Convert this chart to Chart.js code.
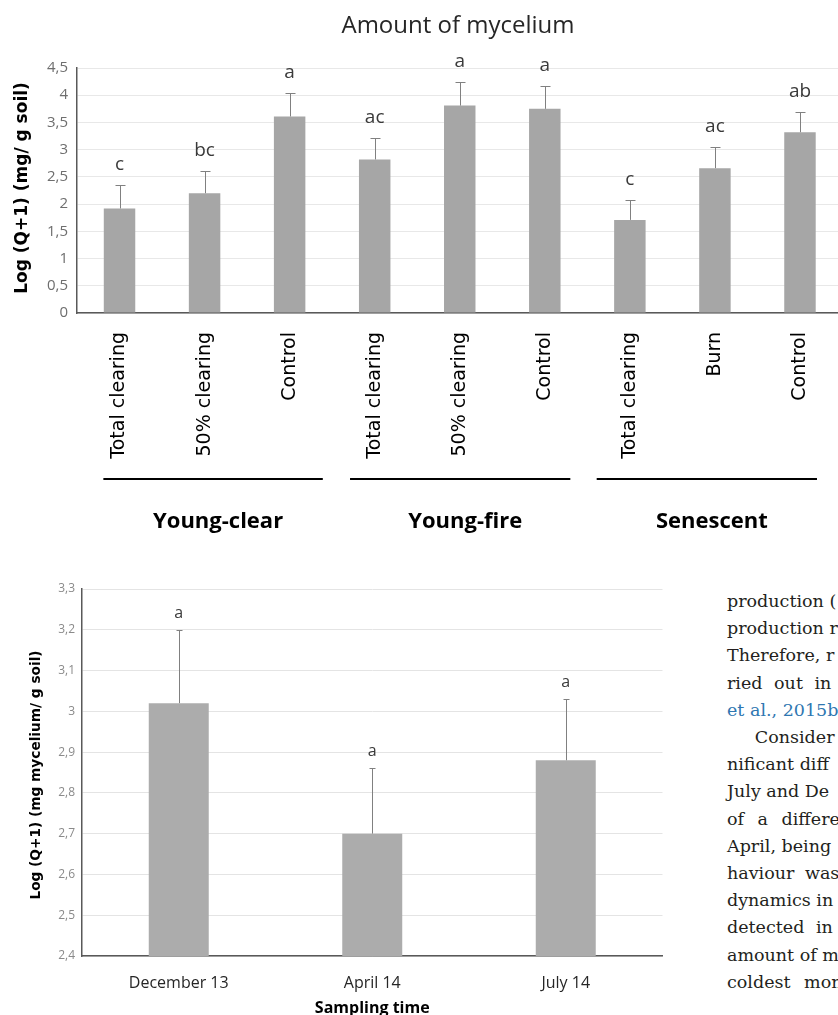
<!DOCTYPE html>
<html>
<head>
<meta charset="utf-8">
<script src="https://cdn.jsdelivr.net/npm/chart.js@4.4.0/dist/chart.umd.min.js"></script>
<style>
    html, body { margin: 0; padding: 0; background: #fff; }
    body { width: 838px; height: 1015px; overflow: hidden; position: relative; }
    #topWrap { position: absolute; left: 0; top: 0; width: 850px; height: 560px; }
    #bottomWrap { position: absolute; left: 0; top: 570px; width: 670px; height: 445px; }
    #sideText {
        position: absolute; left: 727px; top: 588px;
        font-family: "DejaVu Serif", serif; font-size: 17.5px; line-height: 27.2px;
        color: #231f20; white-space: pre;
    }
    #sideText .link { color: #2f77b1; }
</style>
</head>
<body>
<div id="topWrap"><canvas id="myceliumChart" width="850" height="560"></canvas></div>
<div id="bottomWrap"><canvas id="seasonChart" width="670" height="445"></canvas></div>
<div id="sideText"><div>production (</div><div>production r</div><div>Therefore, r</div><div style="word-spacing:6px">ried out in</div><div class="link">et al., 2015b</div><div>     Consider</div><div>nificant diff</div><div>July and De</div><div style="word-spacing:8px">of a differe</div><div>April, being</div><div style="word-spacing:5px">haviour was</div><div>dynamics in</div><div style="word-spacing:6px">detected in</div><div>amount of m</div><div style="word-spacing:8px">coldest mon</div></div>

<script>
// Top chart: amount of mycelium per treatment
const treatments = ['Total clearing', '50% clearing', 'Control',
                    'Total clearing', '50% clearing', 'Control',
                    'Total clearing', 'Burn', 'Control'];
const myceliumValues = [1.92, 2.20, 3.61, 2.82, 3.81, 3.75, 1.71, 2.66, 3.32];
const myceliumErrors = [0.43, 0.41, 0.44, 0.40, 0.43, 0.42, 0.36, 0.39, 0.38];
const myceliumLetters = ['c', 'bc', 'a', 'ac', 'a', 'a', 'c', 'ac', 'ab'];
const standGroups = ['Young-clear', 'Young-fire', 'Senescent'];

// Bottom chart: mycelium per sampling time
const samplingTimes = ['December 13', 'April 14', 'July 14'];
const seasonValues = [3.02, 2.70, 2.88];
const seasonErrors = [0.18, 0.16, 0.15];
const seasonLetters = ['a', 'a', 'a'];

// group underline spans, in category units
const groupSpans = [[-0.19, 2.39], [2.71, 5.30], [5.61, 8.20]];

const BAR_GREY = '#a6a6a6';
const ERR_GREY = '#808080';

const commaTick = (v) => (Number.isInteger(v) ? String(v) : v.toFixed(1)).replace('.', ',');

// draws error bars (plus side) and letter labels above them
const errorBarPlugin = (values, errors, letters, capHalf, font, gap) => ({
    id: 'errorBars',
    afterDatasetsDraw(chart) {
        const { ctx, scales: { y } } = chart;
        const meta = chart.getDatasetMeta(0);
        ctx.save();
        ctx.strokeStyle = ERR_GREY;
        ctx.lineWidth = 1;
        meta.data.forEach((bar, i) => {
            const cx = Math.round(bar.x) + 0.5;
            const yBar = y.getPixelForValue(values[i]);
            const yTop = Math.round(y.getPixelForValue(values[i] + errors[i])) + 0.5;
            ctx.beginPath();
            ctx.moveTo(cx, yBar);
            ctx.lineTo(cx, yTop);
            ctx.moveTo(cx - capHalf, yTop);
            ctx.lineTo(cx + capHalf, yTop);
            ctx.stroke();

            ctx.fillStyle = '#3a3a3a';
            ctx.font = font;
            ctx.textAlign = 'center';
            ctx.textBaseline = 'alphabetic';
            ctx.fillText(letters[i], bar.x, yTop - gap);
        });
        ctx.restore();
    }
});

const topDecor = {
    id: 'topDecor',
    afterDraw(chart) {
        const { ctx, scales: { x } } = chart;
        ctx.save();
        // chart title
        ctx.fillStyle = '#262626';
        ctx.font = '24px "Open Sans"';
        ctx.textAlign = 'center';
        ctx.textBaseline = 'alphabetic';
        ctx.fillText('Amount of mycelium', 458, 33);

        // y axis title
        ctx.save();
        ctx.translate(23, 188);
        ctx.rotate(-Math.PI / 2);
        ctx.fillStyle = '#000';
        ctx.font = 'bold 17px "DejaVu Sans"';
        ctx.textBaseline = 'middle';
        ctx.fillText('Log (Q+1) (mg/ g soil)', 0, 0);
        ctx.restore();

        // group underlines and names
        const step = x.getPixelForValue(1) - x.getPixelForValue(0);
        const x0 = x.getPixelForValue(0);
        ctx.strokeStyle = '#000';
        ctx.lineWidth = 2;
        ctx.font = 'bold 22px "Open Sans"';
        ctx.fillStyle = '#000';
        standGroups.forEach((name, g) => {
            const left = x0 + groupSpans[g][0] * step;
            const right = x0 + groupSpans[g][1] * step;
            ctx.beginPath();
            ctx.moveTo(left, 479);
            ctx.lineTo(right, 479);
            ctx.stroke();
            ctx.fillText(name, (left + right) / 2 + 5, 528);
        });
        ctx.restore();
    }
};

const bottomDecor = {
    id: 'bottomDecor',
    afterDraw(chart) {
        const { ctx, chartArea } = chart;
        ctx.save();
        ctx.save();
        ctx.translate(36, 205);
        ctx.rotate(-Math.PI / 2);
        ctx.fillStyle = '#000';
        ctx.font = 'bold 13.7px "DejaVu Sans"';
        ctx.textAlign = 'center';
        ctx.textBaseline = 'middle';
        ctx.fillText('Log (Q+1) (mg mycelium/ g soil)', 0, 0);
        ctx.restore();

        ctx.fillStyle = '#000';
        ctx.font = 'bold 16px "Open Sans"';
        ctx.textAlign = 'center';
        ctx.textBaseline = 'alphabetic';
        ctx.fillText('Sampling time', (chartArea.left + chartArea.right) / 2, 443);
        ctx.restore();
    }
};

const noSidePadding = (scale) => { scale.paddingLeft = 0; scale.paddingRight = 0; };

window.onload = () => {
    new Chart(document.getElementById('myceliumChart'), {
        type: 'bar',
        data: {
            labels: treatments,
            datasets: [{
                data: myceliumValues,
                backgroundColor: BAR_GREY,
                barPercentage: 0.37,
                categoryPercentage: 1
            }]
        },
        options: {
            responsive: false,
            animation: false,
            devicePixelRatio: 1,
            layout: { padding: { top: 68, right: 7.5, left: 0, bottom: 0 } },
            plugins: { legend: { display: false }, tooltip: { enabled: false } },
            scales: {
                x: {
                    grid: { color: 'rgba(0,0,0,0)', drawTicks: false },
                    border: { color: '#595959', width: 1.5 },
                    ticks: {
                        minRotation: 90, maxRotation: 90, padding: 19,
                        color: '#000', font: { family: 'DejaVu Sans', size: 19 }
                    },
                    afterFit: (s) => { s.height = 247; noSidePadding(s); }
                },
                y: {
                    min: 0, max: 4.5,
                    grid: { color: '#e8e8e8', drawTicks: false },
                    border: { color: '#595959', width: 1.5 },
                    ticks: {
                        stepSize: 0.5, padding: 9, color: '#6e6e6e',
                        font: { family: 'Open Sans', size: 15 },
                        callback: commaTick
                    },
                    afterFit: (s) => { s.width = 77; }
                }
            }
        },
        plugins: [errorBarPlugin(myceliumValues, myceliumErrors, myceliumLetters, 5, '19px "Open Sans"', 16), topDecor]
    });

    new Chart(document.getElementById('seasonChart'), {
        type: 'bar',
        data: {
            labels: samplingTimes,
            datasets: [{
                data: seasonValues,
                backgroundColor: '#acacac',
                barPercentage: 0.31,
                categoryPercentage: 1
            }]
        },
        options: {
            responsive: false,
            animation: false,
            devicePixelRatio: 1,
            layout: { padding: { top: 19, right: 7.5, left: 0, bottom: 0 } },
            plugins: { legend: { display: false }, tooltip: { enabled: false } },
            scales: {
                x: {
                    grid: { color: 'rgba(0,0,0,0)', drawTicks: false },
                    border: { color: '#595959', width: 1.5 },
                    ticks: {
                        padding: 18, color: '#262626',
                        font: { family: 'Open Sans', size: 16 }
                    },
                    afterFit: (s) => { s.height = 59; noSidePadding(s); }
                },
                y: {
                    min: 2.4, max: 3.3,
                    grid: { color: '#e4e4e4', drawTicks: false },
                    border: { color: '#595959', width: 1.5 },
                    ticks: {
                        stepSize: 0.1, padding: 7, color: '#8a8a8a',
                        font: { family: 'Open Sans', size: 12 },
                        callback: commaTick
                    },
                    afterFit: (s) => { s.width = 82; }
                }
            }
        },
        plugins: [errorBarPlugin(seasonValues, seasonErrors, seasonLetters, 3, '16px "Open Sans"', 13), bottomDecor]
    });
};
</script>
</body>
</html>
